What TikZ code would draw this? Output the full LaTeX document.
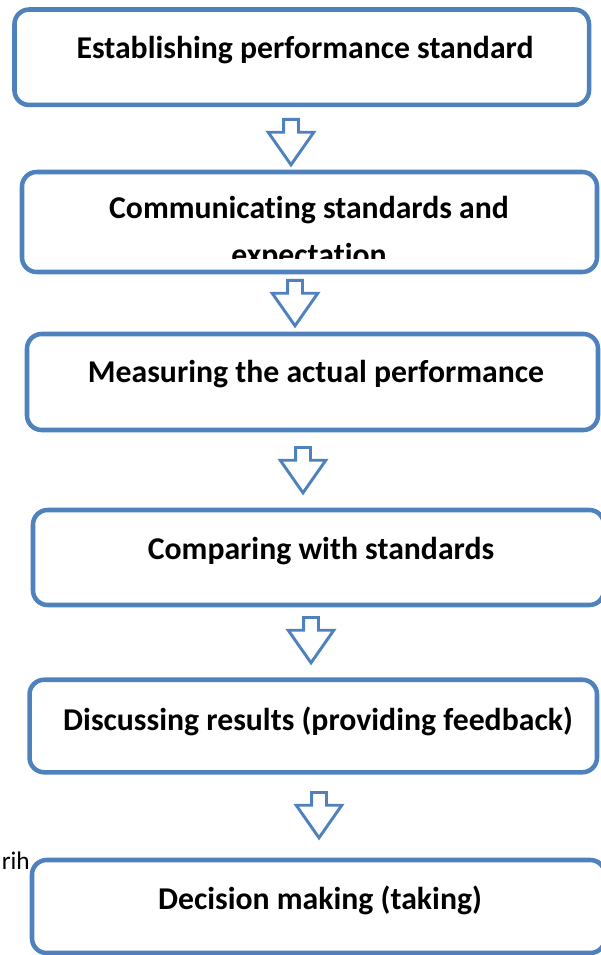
\documentclass[tikz,border=0pt]{standalone}
\usepackage{fontspec}
\setmainfont{Carlito}[Ligatures=NoCommon]
\usetikzlibrary{shapes.arrows}
\definecolor{boxblue}{RGB}{79,129,189}
\tikzset{
  stagebox/.style={draw=boxblue, line width=3.4pt, rounded corners=11pt, inner sep=0pt},
  stagetext/.style={font=\bfseries\fontsize{23.8}{28}\selectfont, anchor=base, inner sep=0pt},
  flowarrow/.style={single arrow, draw=boxblue, fill=white, line width=2.2pt, rotate=-90, anchor=tail,
    minimum height=34pt, inner sep=4.5pt, single arrow head extend=11.5pt, single arrow tip angle=70}
}
\begin{document}
\begin{tikzpicture}[x=0.75pt, y=-0.75pt]
        \useasboundingbox (0,0) rectangle (600,955);
        % Draw boxes
        \node[stagebox, minimum width=430.9pt, minimum height=71.6pt] (establish) at (301.75,57.25) {};
        \node[stagebox, minimum width=431.25pt, minimum height=75pt] (communicate) at (309.5,222) {};
        \node[stagebox, minimum width=428.25pt, minimum height=72pt] (measure) at (312.5,382) {};
        \node[stagebox, minimum width=428.25pt, minimum height=71.25pt] (compare) at (318.5,557.5) {};
        \node[stagebox, minimum width=425.6pt, minimum height=69.4pt] (discuss) at (313.25,726) {};
        \node[stagebox, minimum width=429.75pt, minimum height=69.75pt] (decide) at (318.5,906.5) {};
        % Draw texts
        \node[stagetext] (establishtext) at (305,59) {Establishing performance standard};
        \node[stagetext] (communicatetext) at (309,219) {Communicating standards and};
        \begin{scope}
          \clip (0,172) rectangle (600,259);
          \node[stagetext] (expecttext) at (309,266) {expectation};
        \end{scope}
        \node[stagetext] (measuretext) at (316,382) {Measuring the actual performance};
        \node[stagetext] (comparetext) at (321,559) {Comparing with standards};
        \node[stagetext] (discusstext) at (318,730) {Discussing results (providing feedback)};
        \node[stagetext] (decidetext) at (320,909) {Decision making (taking)};
        \node[anchor=base east, inner sep=0pt, font=\fontsize{19}{22}\selectfont] (rih) at (30,869) {rih};
        % Draw arrows
        \node[flowarrow] (arrowa) at (291,118) {};
        \node[flowarrow] (arrowb) at (295,279) {};
        \node[flowarrow] (arrowc) at (303,446) {};
        \node[flowarrow] (arrowd) at (311,616) {};
        \node[flowarrow] (arrowe) at (319,791) {};
\end{tikzpicture}
\end{document}
